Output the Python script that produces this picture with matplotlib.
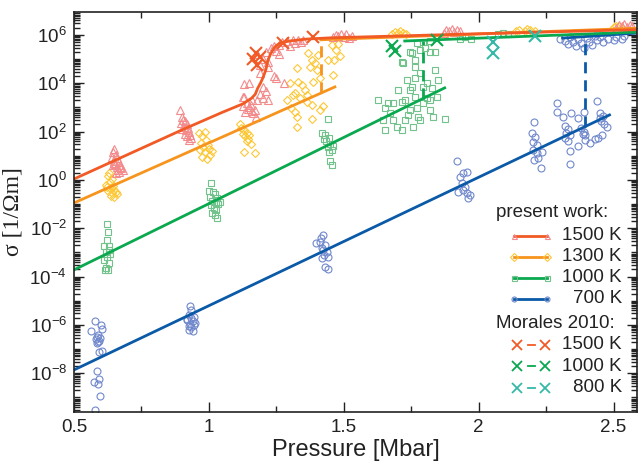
import numpy as np
import matplotlib
matplotlib.use("Agg")
import matplotlib.pyplot as plt
from matplotlib.ticker import LogLocator, FixedLocator, NullFormatter, FuncFormatter
from matplotlib.lines import Line2D

plt.rcParams['font.family'] = ['Liberation Sans', 'DejaVu Sans']
plt.rcParams['mathtext.fontset'] = 'custom'
plt.rcParams['mathtext.rm'] = 'Liberation Sans'
plt.rcParams['mathtext.it'] = 'Liberation Sans'

# colours
c1500, c1300, c1000, c700 = "#f15a24", "#f7941d", "#0aa84f", "#0a5aa8"
m1500, m1300, m1000, m700 = "#f38a8c", "#fdc836", "#72c28c", "#7088cc"
c800 = "#35b8a8"

# ---------------- simulation points: pressure [Mbar], log10(sigma) ----------------
p1500 = [0.650, 0.645, 0.655, 0.640, 0.660, 0.648, 0.665, 0.652, 0.670, 0.643, 0.658, 0.675,
         0.662, 0.680, 0.668, 0.655, 0.672, 0.647,
         0.893, 0.900, 0.905, 0.912, 0.897, 0.918, 0.908, 0.922, 0.902, 0.915, 0.925, 0.910,
         0.930, 0.920, 0.935, 0.928,
         1.13, 1.13, 1.14, 1.15, 1.145, 1.16, 1.155, 1.165, 1.17, 1.175, 1.18, 1.19, 1.20,
         1.21, 1.20, 1.24, 1.135, 1.125, 1.16, 1.126, 1.15, 1.22,
         1.19, 1.22, 1.25, 1.28, 1.18, 1.20, 1.21, 1.23, 1.24, 1.26, 1.27, 1.29, 1.31, 1.33,
         1.35, 1.30, 1.32, 1.25, 1.22, 1.19, 1.26, 1.34,
         1.46, 1.47, 1.48, 1.49, 1.50, 1.51, 1.52, 1.53,
         1.87, 1.88, 1.89, 1.90, 1.91, 1.92, 1.93,
         2.51, 2.52, 2.53, 2.54, 2.55, 2.56, 2.57]
s1500 = [1.28, 1.15, 1.05, 0.95, 0.90, 0.80, 0.75, 0.68, 0.62, 0.60, 0.52, 0.48,
         0.42, 0.40, 0.35, 0.30, 0.55, 0.70,
         2.90, 2.62, 2.50, 2.45, 2.35, 2.30, 2.20, 2.15, 2.10, 2.05, 1.98, 1.92,
         1.88, 1.80, 1.72, 1.65,
         3.95, 3.45, 3.20, 3.02, 2.95, 2.85, 3.10, 2.75, 2.90, 2.60, 3.30, 3.55, 3.40,
         3.70, 3.85, 4.30, 2.80, 3.05, 3.30, 3.43, 4.00, 3.30,
         4.43, 4.68, 4.22, 4.01, 5.20, 5.00, 5.30, 5.45, 5.55, 5.60, 5.70, 5.75, 5.78, 5.80,
         5.80, 5.55, 5.65, 5.35, 4.90, 4.75, 5.20, 5.72,
         5.90, 6.00, 5.95, 6.05, 5.92, 6.02, 5.88, 5.97,
         6.10, 6.20, 6.15, 6.25, 6.12, 6.22, 6.15,
         6.30, 6.40, 6.35, 6.45, 6.32, 6.42, 6.38]

p1300 = [0.630, 0.625, 0.640, 0.635, 0.620, 0.645, 0.632, 0.650, 0.627, 0.642, 0.655, 0.637,
         0.648, 0.660, 0.622,
         0.963, 0.985, 0.975, 0.990, 0.970, 0.995, 0.980, 1.000, 0.968, 0.985, 1.005, 0.975,
         0.992, 1.010,
         1.115, 1.120, 1.130, 1.125, 1.140, 1.135, 1.145, 1.150, 1.140, 1.130, 1.170, 1.155,
         1.300, 1.319, 1.330, 1.344, 1.363, 1.381, 1.289, 1.304, 1.319, 1.326, 1.326, 1.381,
         1.363, 1.411, 1.422, 1.326, 1.459, 1.367, 1.381, 1.393, 1.374, 1.400, 1.411, 1.385,
         1.441, 1.404, 1.456, 1.470, 1.485, 1.463, 1.478, 1.356, 1.337, 1.311,
         1.68, 1.69, 1.70, 1.71, 1.72, 1.73,
         2.14, 2.15, 2.17, 2.18, 2.19, 2.21,
         2.50, 2.51, 2.52, 2.53]
s1300 = [0.29, 0.15, 0.05, -0.10, -0.20, -0.25, -0.35, -0.40, -0.45, -0.55, -0.50, -0.65,
         -0.72, -0.60, -0.30,
         1.95, 2.00, 1.80, 1.65, 1.55, 1.45, 1.35, 1.30, 1.25, 1.15, 1.05, 0.95,
         0.88, 1.20,
         2.30, 2.15, 2.05, 1.90, 1.95, 1.80, 1.70, 1.85, 1.60, 1.16, 1.12, 1.50,
         4.01, 3.60, 4.05, 3.93, 3.52, 3.10, 3.31, 2.98, 2.81, 2.61, 2.19, 2.52,
         3.23, 2.90, 3.06, 4.63, 4.34, 5.25, 4.96, 4.84, 4.68, 4.55, 4.22, 4.05,
         4.96, 5.17, 5.59, 5.38, 5.13, 4.96, 5.63, 3.72, 3.39, 3.52,
         6.05, 6.12, 6.08, 6.15, 6.10, 6.05,
         6.15, 6.22, 6.18, 6.25, 6.20, 6.15,
         6.32, 6.38, 6.35, 6.30]

p1000 = [0.622, 0.626, 0.622, 0.611, 0.630, 0.619, 0.622, 0.611, 0.630, 0.619, 0.626, 0.615,
         0.633, 0.628,
         1.007, 1.000, 1.015, 1.022, 1.005, 1.030, 1.012, 1.025, 1.008, 1.035, 1.018, 1.028,
         1.010, 1.022, 1.030, 1.040,
         1.441, 1.420, 1.430, 1.445, 1.435, 1.450, 1.440, 1.455, 1.445, 1.460, 1.450, 1.456,
         1.425,
         1.626, 1.652, 1.645, 1.652, 1.681, 1.700, 1.715, 1.696, 1.726, 1.744, 1.763, 1.774,
         1.793, 1.819, 1.830, 1.844, 1.874, 1.733, 1.752, 1.781, 1.763, 1.837, 1.848, 1.807,
         1.744, 1.726, 1.670, 1.715, 1.781, 1.819, 1.756, 1.737, 1.681, 1.663, 1.807, 1.770,
         1.826, 1.793,
         1.715, 1.752, 1.763, 1.744, 1.781, 1.800, 1.819, 1.837, 1.770, 1.793, 1.819, 1.763,
         1.719,
         1.93, 1.95, 1.97, 1.94, 2.07, 2.09, 2.11]
s1000 = [-1.82, -2.15, -2.48, -2.73, -2.73, -2.98, -3.19, -3.31, -3.43, -3.64, -3.72, -3.72,
         -3.05, -2.90,
         -0.12, -0.45, -0.50, -0.60, -0.70, -0.75, -0.85, -0.95, -1.05, -1.00, -1.15, -1.25,
         -1.35, -1.45, -1.57, -0.90,
         2.52, 1.95, 1.85, 1.75, 1.60, 1.50, 1.35, 1.25, 1.15, 1.40, 0.80, 0.62,
         1.70,
         3.31, 2.98, 2.48, 2.07, 3.19, 3.72, 3.23, 2.19, 2.48, 2.90, 3.43, 2.61,
         3.19, 3.31, 2.61, 3.43, 2.52, 4.14, 3.85, 4.43, 4.22, 4.55, 4.14, 4.01,
         3.72, 3.31, 2.77, 2.07, 2.48, 2.90, 2.19, 2.69, 2.48, 3.19, 3.39, 2.98,
         3.81, 3.85,
         4.88, 5.25, 4.96, 5.30, 5.38, 5.46, 5.30, 5.30, 5.67, 5.71, 5.75, 4.68,
         4.84,
         5.85, 5.90, 5.82, 5.95, 6.05, 6.10, 6.02]

p700 = [0.578, 0.563, 0.600, 0.604, 0.585, 0.593, 0.589, 0.597, 0.581, 0.593, 0.604, 0.585,
        0.574, 0.593, 0.589, 0.596, 0.578, 0.590, 0.586,
        0.930, 0.925, 0.935, 0.920, 0.940, 0.930, 0.945, 0.925, 0.935, 0.950, 0.928, 0.940,
        0.918, 0.945, 0.932,
        1.422, 1.396, 1.411, 1.430, 1.419, 1.437, 1.422, 1.426, 1.419, 1.441, 1.430, 1.441,
        1.415,
        1.919, 1.941, 1.930, 1.956, 1.937, 1.948, 1.922, 1.956, 1.959, 1.941, 1.967,
        2.204, 2.196, 2.207, 2.200, 2.215, 2.200, 2.215, 2.233, 2.204, 2.219, 2.230,
        2.289, 2.289, 2.341, 2.311, 2.319, 2.330, 2.325, 2.337, 2.320, 2.333, 2.337, 2.337,
        2.370, 2.389, 2.380, 2.390, 2.395, 2.385, 2.370, 2.396, 2.411, 2.430, 2.444, 2.437,
        2.448, 2.455, 2.465, 2.474, 2.459, 2.450, 2.460,
        2.30, 2.32, 2.34, 2.35, 2.37, 2.38, 2.40, 2.41, 2.42, 2.39, 2.44, 2.45, 2.46, 2.48,
        2.50, 2.51, 2.53, 2.54, 2.36, 2.43, 2.33]
s700 = [-5.83, -6.25, -6.00, -6.16, -6.50, -6.66, -6.40, -6.55, -6.60, -7.12, -7.07, -7.90,
        -8.36, -8.23, -8.44, -8.94, -9.52, -6.70, -6.75,
        -5.21, -5.60, -5.70, -5.80, -5.85, -5.95, -6.00, -6.05, -6.10, -5.90, -6.20, -6.25,
        -5.75, -5.65, -5.40,
        -2.28, -2.61, -2.57, -2.69, -2.81, -2.98, -2.90, -3.10, -3.23, -3.19, -3.60, -3.68,
        -2.40,
        0.79, 0.29, 0.12, 0.33, -0.12, -0.29, -0.50, -0.54, -0.74, -0.41, -0.62,
        2.40, 1.94, 1.78, 1.57, 1.45, 1.24, 1.12, 1.16, 0.83, 0.91, 0.50,
        3.19, 2.81, 2.77, 2.61, 2.25, 2.10, 1.95, 1.85, 1.75, 1.60, 1.20, 0.66,
        2.57, 2.81, 2.15, 2.00, 1.85, 1.90, 1.40, 1.65, 1.53, 1.70, 1.74, 3.27,
        2.77, 2.45, 2.30, 2.20, 1.86, 2.55, 2.65,
        5.85, 5.75, 5.90, 5.70, 5.82, 5.65, 5.88, 5.72, 5.60, 5.45, 5.80, 5.90, 5.70, 5.85,
        5.78, 5.92, 5.85, 5.95, 5.55, 5.95, 5.62]

# ---------------- fits ----------------
fit1500_p = [0.50, 0.90, 1.05, 1.126, 1.159, 1.172, 1.181, 1.191, 1.200, 1.211, 1.219, 1.230,
             1.244, 1.263, 1.300, 1.363, 1.448, 2.000, 2.590]
fit1500_s = [0.04, 2.07, 2.80, 3.15, 3.39, 3.55, 3.80, 4.00, 4.22, 4.55, 4.96, 5.25,
             5.50, 5.67, 5.75, 5.83, 5.88, 6.05, 6.22]

fit1300_p, fit1300_s = [0.50, 1.467], [-0.95, 3.85]
fit1000_p, fit1000_s = [0.50, 1.874], [-3.72, 3.81]
fit700_p, fit700_s = [0.50, 2.485], [-7.86, 2.69]

# metallic branches and jumps
top1300_p, top1300_s = [1.415, 2.590], [5.80, 6.28]
top1000_p, top1000_s = [1.726, 2.590], [5.75, 6.12]
top700_p, top700_s = [2.311, 2.590], [5.87, 6.08]
jump1300_p, jump1300_s = [1.415, 1.415], [3.59, 5.80]
jump1000_p, jump1000_s = [1.793, 1.793], [3.37, 5.75]
jump700_p, jump700_s = [2.396, 2.396], [2.21, 5.87]

# Morales et al. 2010
mor1500_p = [1.165, 1.175, 1.180, 1.190, 1.274, 1.385]
mor1500_s = [5.00, 5.25, 4.75, 5.10, 5.67, 5.92]
mor1000_p = [1.680, 1.690, 1.844]
mor1000_s = [5.55, 5.35, 5.80]
mor800_p = [2.052, 2.052, 2.207]
mor800_s = [5.25, 5.70, 5.96]


def sig(v):
    return 10.0 ** np.asarray(v)


fig = plt.figure(figsize=(6.43, 4.63), dpi=100)
ax = fig.add_axes([0.1151, 0.1102, 0.8756, 0.8639])

ms = 5.0
mew = 0.8
ax.plot(p700, sig(s700), "o", ms=ms, mfc="none", mec=m700, mew=mew)
ax.plot(p1000, sig(s1000), "s", ms=ms - 0.4, mfc="none", mec=m1000, mew=mew)
ax.plot(p1300, sig(s1300), "D", ms=ms - 1.0, mfc="none", mec=m1300, mew=mew)
ax.plot(p1500, sig(s1500), "^", ms=ms + 0.4, mfc="none", mec=m1500, mew=mew)

lw = 2.0
dash = (0, (4, 2.5))
ax.plot(fit700_p, sig(fit700_s), color=c700, lw=lw)
ax.plot(top700_p, sig(top700_s), color=c700, lw=lw)
ax.plot(jump700_p, sig(jump700_s), color=c700, lw=lw, ls=dash)
ax.plot(fit1000_p, sig(fit1000_s), color=c1000, lw=lw)
ax.plot(top1000_p, sig(top1000_s), color=c1000, lw=lw)
ax.plot(jump1000_p, sig(jump1000_s), color=c1000, lw=lw, ls=dash)
ax.plot(fit1300_p, sig(fit1300_s), color=c1300, lw=lw)
ax.plot(top1300_p, sig(top1300_s), color=c1300, lw=lw)
ax.plot(jump1300_p, sig(jump1300_s), color=c1300, lw=lw, ls=dash)
ax.plot(fit1500_p, sig(fit1500_s), color=c1500, lw=lw, solid_joinstyle="round")

xs = 8.5
ax.plot(mor1500_p, sig(mor1500_s), "x", ms=xs, mew=1.5, color=c1500)
ax.plot(mor1000_p, sig(mor1000_s), "x", ms=xs, mew=1.5, color=c1000)
ax.plot(mor800_p, sig(mor800_s), "x", ms=xs, mew=1.5, color=c800)

ax.set_yscale("log")
ax.set_xlim(0.5, 2.587)
ax.set_ylim(10 ** -9.6, 10 ** 6.95)

ax.xaxis.set_major_locator(FixedLocator([0.5, 1.0, 1.5, 2.0, 2.5]))
ax.xaxis.set_minor_locator(FixedLocator([0.75, 1.25, 1.75, 2.25]))
ax.xaxis.set_major_formatter(FuncFormatter(lambda v, _: "%g" % v))
ax.yaxis.set_major_locator(FixedLocator([1e-8, 1e-6, 1e-4, 1e-2, 1e0, 1e2, 1e4, 1e6]))
ax.yaxis.set_minor_locator(LogLocator(base=10.0, subs=np.arange(1, 10), numticks=40))
ax.yaxis.set_minor_formatter(NullFormatter())
ax.yaxis.set_major_formatter(FuncFormatter(lambda v, _: r"$10^{%d}$" % round(np.log10(v))))

ax.tick_params(which="both", direction="in", top=True, right=True, width=1.0,
               labelsize=13.5, colors="#222222")
ax.tick_params(which="major", length=7.5, pad=5)
ax.tick_params(which="minor", length=4)
for sp in ax.spines.values():
    sp.set_linewidth(1.2)
    sp.set_color("#222222")

ax.set_xlabel("Pressure [Mbar]", fontsize=17, color="#222222", labelpad=2)
ax.set_ylabel("σ [1/Ωm]", fontsize=17, family=["Liberation Serif", "DejaVu Serif"],
              color="#222222", labelpad=4)

# legend, drawn by hand so that labels are right aligned
tr = ax.transAxes
fs = 13.5
ax.text(0.9485, 0.4975, "present work:", transform=tr, ha="right", va="center", fontsize=fs,
        color="#222222")
present = [(c1500, m1500, "^", "1500 K"), (c1300, m1300, "D", "1300 K"),
           (c1000, m1000, "s", "1000 K"), (c700, m700, "o", "700 K")]
for i, (lc, mc, mk, lab) in enumerate(present):
    y = 0.44 - i * 0.0525
    ax.add_line(Line2D([0.781, 0.840], [y, y], transform=tr, color=lc, lw=lw))
    ax.add_line(Line2D([0.781, 0.840], [y, y], transform=tr, ls="none", marker=mk,
                       ms=3.6, mfc="none", mec=mc, mew=0.8))
    ax.text(0.973, y, lab, transform=tr, ha="right", va="center", fontsize=fs, color="#222222")

ax.text(0.961, 0.22, "Morales 2010:", transform=tr, ha="right", va="center", fontsize=fs,
        color="#222222")
morales = [(c1500, "1500 K"), (c1000, "1000 K"), (c800, "800 K")]
for i, (lc, lab) in enumerate(morales):
    y = 0.1675 - i * 0.0537
    ax.add_line(Line2D([0.787, 0.837], [y, y], transform=tr, ls="none", marker="x",
                       ms=7.5, mew=1.3, color=lc))
    ax.add_line(Line2D([0.806, 0.818], [y, y], transform=tr, color=lc, lw=1.3))
    ax.text(0.973, y, lab, transform=tr, ha="right", va="center", fontsize=fs, color="#222222")

fig.savefig("out.png", dpi=100)
